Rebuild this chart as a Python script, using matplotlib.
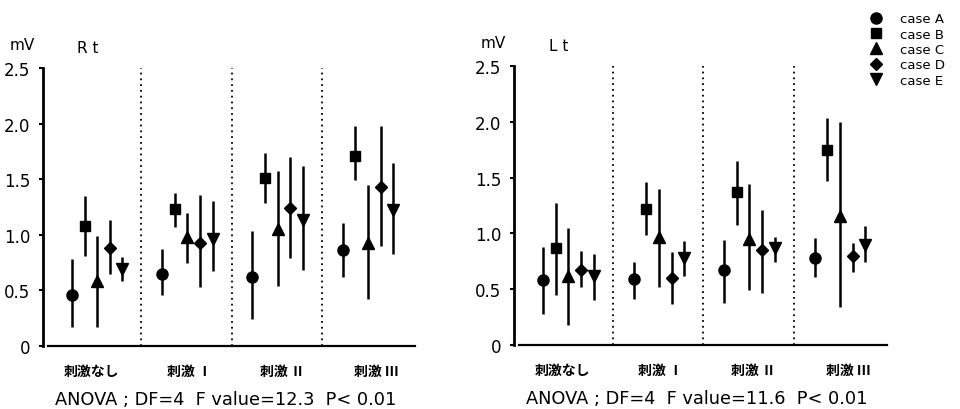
import matplotlib
matplotlib.use("Agg")
import matplotlib.pyplot as plt
from matplotlib.lines import Line2D
import numpy as np

plt.rcParams["font.family"] = ["DejaVu Sans"]

groups = ["刺激なし", "刺激 Ⅰ", "刺激 Ⅱ", "刺激 Ⅲ"]
cases = ["case A", "case B", "case C", "case D", "case E"]
markers = ["o", "s", "^", "D", "v"]

# R t : mean, lower and upper end of bar, one row per case
rt_mean = [[0.46, 0.65, 0.62, 0.86],
           [1.08, 1.23, 1.51, 1.71],
           [0.58, 0.98, 1.05, 0.93],
           [0.88, 0.93, 1.24, 1.43],
           [0.69, 0.96, 1.13, 1.22]]
rt_low = [[0.17, 0.46, 0.24, 0.62],
          [0.81, 1.07, 1.29, 1.49],
          [0.17, 0.75, 0.54, 0.42],
          [0.65, 0.53, 0.79, 0.90],
          [0.58, 0.67, 0.68, 0.83]]
rt_high = [[0.78, 0.87, 1.03, 1.11],
           [1.35, 1.38, 1.74, 1.98],
           [0.99, 1.20, 1.57, 1.45],
           [1.13, 1.36, 1.70, 1.98],
           [0.80, 1.30, 1.62, 1.65]]

# L t
lt_mean = [[0.58, 0.59, 0.67, 0.78],
           [0.87, 1.22, 1.37, 1.75],
           [0.62, 0.97, 0.95, 1.16],
           [0.67, 0.60, 0.85, 0.80],
           [0.62, 0.78, 0.87, 0.90]]
lt_low = [[0.28, 0.41, 0.38, 0.61],
          [0.45, 0.99, 1.08, 1.47],
          [0.18, 0.52, 0.49, 0.34],
          [0.52, 0.37, 0.47, 0.65],
          [0.40, 0.62, 0.74, 0.74]]
lt_high = [[0.88, 0.74, 0.94, 0.96],
           [1.27, 1.46, 1.65, 2.03],
           [1.05, 1.40, 1.44, 2.00],
           [0.84, 0.83, 1.21, 0.91],
           [0.82, 0.93, 0.97, 1.07]]

anova = ["ANOVA ; DF=4  F value=12.3  P< 0.01",
         "ANOVA ; DF=4  F value=11.6  P< 0.01"]
titles = ["R t", "L t"]

cjk = ["Noto Sans CJK JP", "DejaVu Sans"]
msizes = {"o": 8, "s": 7.5, "^": 8.5, "D": 6.5, "v": 8.5}


def draw_panel(ax, mean, low, high, title, note):
    mean, low, high = np.array(mean), np.array(low), np.array(high)
    for k, m in enumerate(markers):
        x = np.arange(len(groups)) + 0.23 + 0.14 * k
        ax.errorbar(x, mean[k], yerr=[mean[k] - low[k], high[k] - mean[k]],
                    fmt=m, color="black", ms=msizes[m], elinewidth=1.8,
                    capsize=0, zorder=3)
    ax.vlines([1, 2, 3], 0, 2.5, colors="black", linestyles=(0, (1, 2.2)),
              lw=1.3, zorder=1)
    ax.set_xlim(-0.09, 4.03)
    ax.set_ylim(0, 2.5)
    ax.set_yticks([0, 0.5, 1.0, 1.5, 2.0, 2.5])
    ax.set_yticklabels(["0", "0.5", "1.0", "1.5", "2.0", "2.5"])
    ax.tick_params(axis="y", length=3, width=1.5, pad=6, labelsize=12)
    ax.set_xticks([0.45, 1.53, 2.56, 3.6])
    ax.set_xticklabels(groups, family=cjk, fontweight="bold", fontsize=10)
    ax.tick_params(axis="x", length=0, pad=13)
    ax.spines[["top", "right"]].set_visible(False)
    ax.spines["left"].set_linewidth(2)
    ax.spines["bottom"].set_linewidth(1.6)
    ax.spines["bottom"].set_bounds(-0.03, 4.03)
    ax.text(-0.055, 1.085, "mV", transform=ax.transAxes, fontsize=11,
            ha="center", va="center")
    ax.text(0.12, 1.075, title, transform=ax.transAxes, fontsize=11,
            ha="center", va="center")
    ax.text(0.49, -0.19, note, transform=ax.transAxes, fontsize=12.8,
            ha="center", va="center")


fig = plt.figure(figsize=(9.6, 4.1), dpi=100)
ax1 = fig.add_axes([0.0448, 0.1537, 0.3875, 0.678])
ax2 = fig.add_axes([0.5354, 0.156, 0.3886, 0.6805])
draw_panel(ax1, rt_mean, rt_low, rt_high, titles[0], anova[0])
draw_panel(ax2, lt_mean, lt_low, lt_high, titles[1], anova[1])

handles = [Line2D([], [], ls="none", marker=m, color="black", ms=msizes[m])
           for m in markers]
fig.legend(handles, cases, loc="upper left", bbox_to_anchor=(0.896, 0.99),
           frameon=False, fontsize=9.5, handlelength=1.0, handletextpad=1.3,
           labelspacing=0.18, borderpad=0.2)

fig.savefig("out.png", dpi=100)
